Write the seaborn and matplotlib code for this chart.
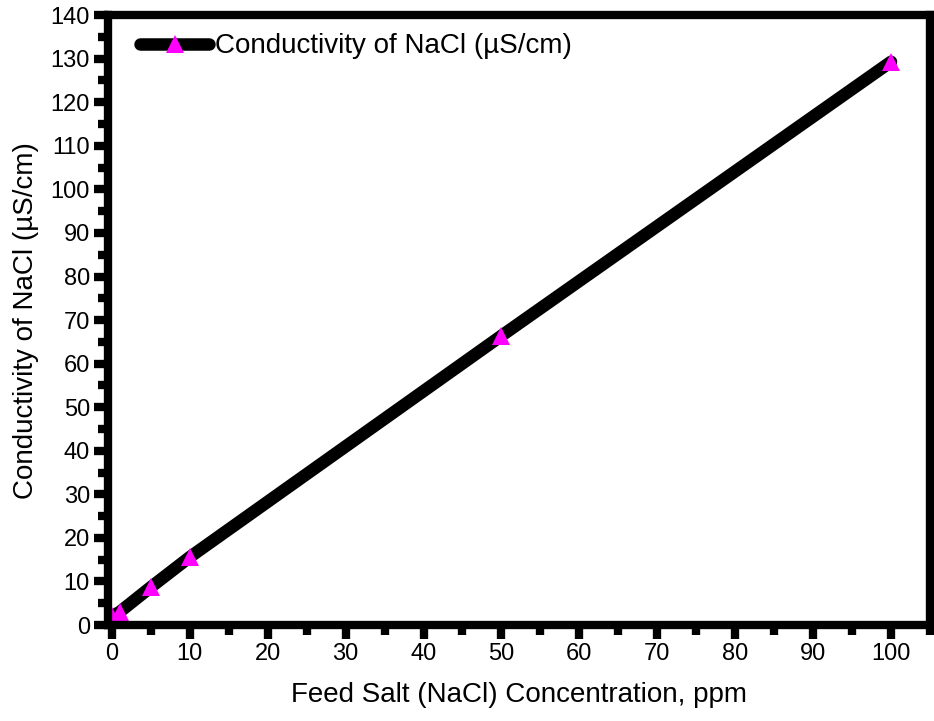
import numpy as np
import pandas as pd
import matplotlib
matplotlib.use('Agg')
import matplotlib.pyplot as plt
from matplotlib.ticker import MultipleLocator
import seaborn as sns

# data
feed_ppm = [0, 1, 5, 10, 50, 100]
conductivity = [2.0, 3.0, 8.7, 15.6, 66.4, 129.3]
series_label = 'Conductivity of NaCl (\u00b5S/cm)'
x_label = 'Feed Salt (NaCl) Concentration, ppm'
y_label = 'Conductivity of NaCl (\u00b5S/cm)'

df = pd.DataFrame({'ppm': feed_ppm, 'cond': conductivity})

sns.set_style('ticks')
plt.rcParams['font.family'] = ['Liberation Sans', 'DejaVu Sans']

fig = plt.figure(figsize=(9.34, 7.21), dpi=100)
ax = fig.add_axes([0.1156, 0.1331, 0.8801, 0.8459])

sns.lineplot(data=df, x='ppm', y='cond', ax=ax, color='black', linewidth=9,
             marker='^', markersize=13, markerfacecolor='#FF00FF',
             markeredgecolor='#FF00FF', markeredgewidth=0,
             solid_capstyle='round', label=series_label)

ax.set_xlim(-0.5, 105)
ax.set_ylim(0, 140)
ax.xaxis.set_major_locator(MultipleLocator(10))
ax.xaxis.set_minor_locator(MultipleLocator(5))
ax.yaxis.set_major_locator(MultipleLocator(10))
ax.yaxis.set_minor_locator(MultipleLocator(5))
ax.set_xticks(np.arange(0, 101, 10))
ax.set_yticks(np.arange(0, 141, 10))

for s in ax.spines.values():
    s.set_linewidth(6)
    s.set_color('black')
    s.set_visible(True)

ax.tick_params(which='major', direction='out', length=10, width=6, pad=3,
               labelsize=17, color='black', labelcolor='black',
               top=False, right=False)
ax.tick_params(which='minor', direction='out', length=7, width=6,
               color='black', top=False, right=False)

ax.set_xlabel(x_label, fontsize=20, labelpad=12, color='black')
ax.set_ylabel(y_label, fontsize=20, labelpad=8, color='black')

leg = ax.legend(loc='upper left', bbox_to_anchor=(0.039, 0.97), frameon=False,
                fontsize=20, handlelength=2.5, handletextpad=0.2,
                borderaxespad=0, borderpad=0)
for t in leg.get_texts():
    t.set_color('black')

plt.savefig('out.png', dpi=100)
